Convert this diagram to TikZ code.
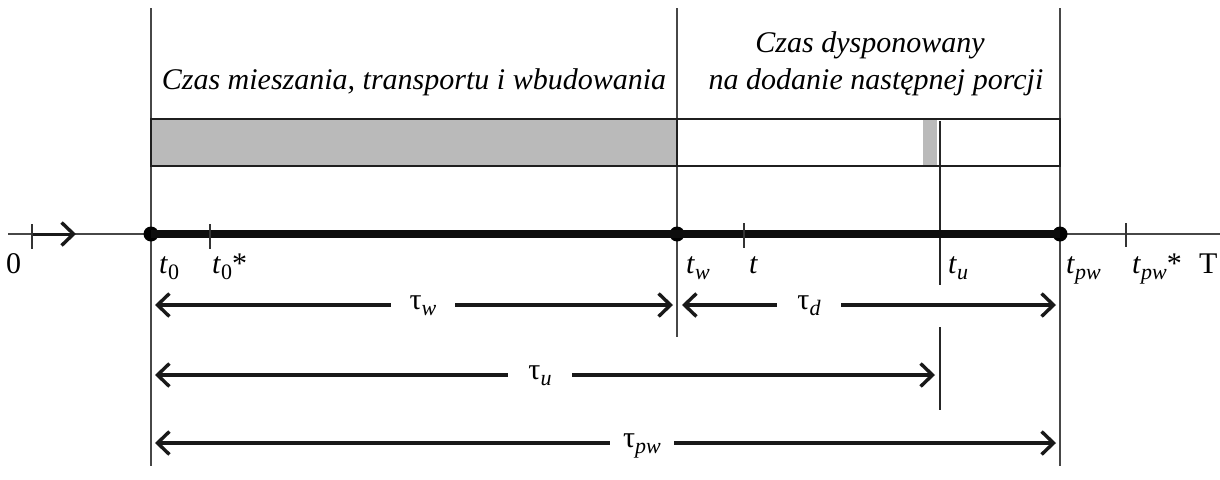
\documentclass[tikz,border=0pt]{standalone}
\usepackage{fontspec}
\setmainfont{Liberation Serif}
\usetikzlibrary{arrows.meta}
\newcommand\subx[1]{\raisebox{-0.22em}{\fontsize{22}{22}\selectfont #1}}
\begin{document}
\begin{tikzpicture}[x=1pt,y=-1pt,
  font=\fontsize{30}{34}\selectfont,
  thinline/.style={line width=1.4pt, draw=black!72},
  tickline/.style={line width=1.2pt, draw=black!80},
  barb/.tip={Straight Barb[length=12pt,width=23pt,line width=3.4pt]},
  dimarrow/.style={line width=3.4pt, draw=black!90, -barb},
  dimlabel/.style={minimum width=64pt, inner sep=0pt, anchor=base},
  axlabel/.style={anchor=base west, inner sep=0pt},
  dot/.style={circle, fill=black, inner sep=0pt, minimum size=15pt},
  boxline/.style={line width=2.8pt, draw=black!88},
  title/.style={font=\fontsize{30}{37}\selectfont\itshape, align=center, inner sep=0pt}]
\useasboundingbox (0,0) rectangle (1220,479);

% vertical guide lines
\coordinate (v0t) at (151,8);   \coordinate (v0b) at (151,466);
\coordinate (vwt) at (677,8);   \coordinate (vwb) at (677,337);
\coordinate (vpt) at (1060,8);  \coordinate (vpb) at (1060,466);
\coordinate (vu1) at (940,121); \coordinate (vu2) at (940,285);
\coordinate (vu3) at (940,327); \coordinate (vu4) at (940,410);
\draw[thinline] (v0t) -- (v0b);
\draw[thinline] (vwt) -- (vwb);
\draw[thinline] (vpt) -- (vpb);
\draw[line width=1.2pt, draw=black!85] (vu1) -- (vu2);
\draw[line width=1.2pt, draw=black!85] (vu3) -- (vu4);

% titles
\node[title, anchor=base] (tA) at (414,89) {Czas mieszania, transportu i wbudowania};
\node[title, anchor=base] (tB) at (870,52) {Czas dysponowany};
\node[title, anchor=base] (tC) at (876,89) {na dodanie następnej porcji};

% bar
\fill[black!27] (151,119) rectangle (677,166);
\fill[black!27] (923,119) rectangle (937,166);
\draw[boxline] (151,119) rectangle (1060,166);
\draw[boxline] (677,119) -- (677,166);

% axis
\coordinate (axL) at (8,234);
\coordinate (axR) at (1220,234);
\draw[thinline] (axL) -- (axR);
\node[dot] (d0) at (151,234) {};
\node[dot] (dw) at (677,234) {};
\node[dot] (dp) at (1060,234) {};
\draw[line width=8pt, draw=black!95] (d0.center) -- (dp.center);
% start arrow
\coordinate (s0) at (32,234);
\coordinate (s1) at (76,234);
\draw[line width=3pt, draw=black!90, -barb] (s0) -- (s1);
% ticks
\draw[tickline] (32,224) -- (32,249);
\draw[tickline] (210,224) -- (210,249);
\draw[tickline] (744,223) -- (744,248);
\draw[tickline] (1126,223) -- (1126,247);

% axis labels
\node[axlabel] (l0) at (6,273) {0};
\node[axlabel] (lt0) at (159,273) {\textit{t}\subx{0}};
\node[axlabel] (lt0s) at (212,273) {\textit{t}\subx{0}*};
\node[axlabel] (ltw) at (686,273) {\textit{t}\subx{\itshape w}};
\node[axlabel] (lt) at (749,273) {\textit{t}};
\node[axlabel] (ltu) at (948,273) {\textit{t}\subx{\itshape u}};
\node[axlabel] (ltp) at (1066,273) {\textit{t}\subx{\itshape pw}};
\node[axlabel] (ltps) at (1132,273) {\textit{t}\subx{\itshape pw}*};
\node[axlabel] (lT) at (1199,273) {T};

% dimension arrows
\coordinate (wL) at (155,305);  \coordinate (wR) at (673,305);
\coordinate (dL) at (682,305);  \coordinate (dR) at (1056,305);
\coordinate (uL) at (155,375);  \coordinate (uR) at (935,375);
\coordinate (pL) at (155,443);  \coordinate (pR) at (1056,443);
\node[dimlabel] (tw) at (423,309) {τ\subx{\itshape w}};
\node[dimlabel] (td) at (809,309) {τ\subx{\itshape d}};
\node[dimlabel] (tu) at (540,379) {τ\subx{\itshape u}};
\node[dimlabel] (tp) at (642,447) {τ\subx{\itshape pw}};
\draw[dimarrow] (tw.west |- wL) -- (wL);
\draw[dimarrow] (tw.east |- wR) -- (wR);
\draw[dimarrow] (td.west |- dL) -- (dL);
\draw[dimarrow] (td.east |- dR) -- (dR);
\draw[dimarrow] (tu.west |- uL) -- (uL);
\draw[dimarrow] (tu.east |- uR) -- (uR);
\draw[dimarrow] (tp.west |- pL) -- (pL);
\draw[dimarrow] (tp.east |- pR) -- (pR);
\end{tikzpicture}
\end{document}
